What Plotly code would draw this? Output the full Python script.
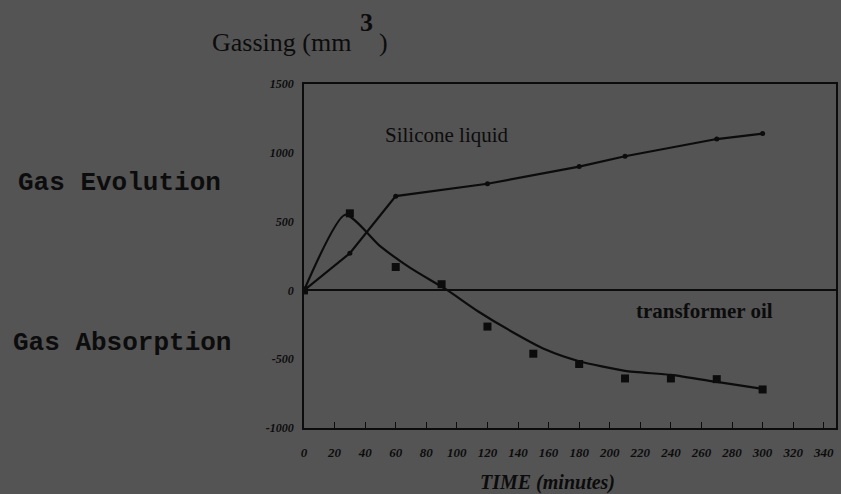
import plotly.graph_objects as go

# ---- data ----
silicone_t = [0, 30, 60, 120, 180, 210, 270, 300]
silicone_v = [0, 270, 685, 775, 900, 975, 1100, 1140]

oil_t = [0, 30, 60, 90, 120, 150, 180, 210, 240, 270, 300]
oil_v = [0, 560, 170, 45, -263, -460, -535, -640, -640, -645, -720]

# hand-drawn fitted curve through the transformer oil points
oil_fit_t = [0, 27, 50, 70, 93, 114, 136, 158, 180, 210, 240, 270, 300]
oil_fit_v = [0, 550, 320, 160, 7, -153, -300, -430, -515, -585, -614, -665, -716]

x_ticks = list(range(0, 341, 20))
x_tick_text = [str(v) for v in x_ticks]
y_ticks = [1500, 1000, 500, 0, -500, -1000]
y_tick_text = ["1500", "1000", "500", "0", "-500", "-1000"]

# ---- layout geometry ----
W, H = 841, 494
L, R, T, B = 304, 3, 84, 66
BG = "#545454"
INK = "#0c0c0c"


def px(xpix):
    return (xpix - L) / (W - L - R)


def py(ypix):
    return 1 - (ypix - T) / (H - T - B)


fig = go.Figure()
fig.add_trace(go.Scatter(
    x=silicone_t, y=silicone_v, mode="lines+markers",
    line=dict(color=INK, width=2.2),
    marker=dict(color=INK, size=5, symbol="circle"),
    showlegend=False, hoverinfo="skip"))
fig.add_trace(go.Scatter(
    x=oil_fit_t, y=oil_fit_v, mode="lines",
    line=dict(color=INK, width=2.2, shape="spline", smoothing=0.6),
    showlegend=False, hoverinfo="skip"))
fig.add_trace(go.Scatter(
    x=oil_t, y=oil_v, mode="markers",
    marker=dict(color=INK, size=8, symbol="square"),
    showlegend=False, hoverinfo="skip"))

serif = "Liberation Serif"
ann = []
ann.append(dict(text="Gassing (mm", x=px(210), y=py(42), xanchor="left", yanchor="middle",
                font=dict(family=serif, size=26, color=INK)))
ann.append(dict(text="3", x=px(367), y=py(22), xanchor="center", yanchor="middle",
                font=dict(family=serif, size=26, color=INK, weight="bold")))
ann.append(dict(text=")", x=px(377), y=py(42), xanchor="left", yanchor="middle",
                font=dict(family=serif, size=26, color=INK)))
ann.append(dict(text="Gas Evolution", x=px(15), y=py(183), xanchor="left", yanchor="middle",
                font=dict(family="Liberation Mono", size=26, color=INK, weight="bold")))
ann.append(dict(text="Gas Absorption", x=px(10), y=py(343), xanchor="left", yanchor="middle",
                font=dict(family="Liberation Mono", size=26, color=INK, weight="bold")))
ann.append(dict(text="Silicone liquid", x=px(448), y=py(135), xanchor="center", yanchor="middle",
                font=dict(family=serif, size=21, color=INK)))
ann.append(dict(text="transformer oil", x=px(706), y=py(311), xanchor="center", yanchor="middle",
                font=dict(family=serif, size=21, color=INK, weight="bold")))
ann.append(dict(text="TIME (minutes)", x=px(548), y=py(482), xanchor="center", yanchor="middle",
                font=dict(family=serif, size=20, color=INK, weight="bold", style="italic")))
for a in ann:
    a.update(xref="paper", yref="paper", showarrow=False)

fig.update_layout(
    width=W, height=H,
    margin=dict(l=L, r=R, t=T, b=B),
    paper_bgcolor=BG, plot_bgcolor=BG,
    annotations=ann,
    xaxis=dict(range=[0, 348], tickvals=x_ticks, ticktext=x_tick_text,
               showgrid=False, zeroline=False, showline=True, mirror=True,
               linecolor=INK, linewidth=1.6, ticks="inside", ticklen=6, tickcolor=INK,
               tickwidth=1.2, ticklabelstandoff=12,
               tickfont=dict(family=serif, size=13, color=INK, weight="bold", style="italic")),
    yaxis=dict(range=[-1000, 1500], tickvals=y_ticks, ticktext=y_tick_text,
               showgrid=False, zeroline=True, zerolinecolor=INK, zerolinewidth=1.6,
               showline=True, mirror=True, linecolor=INK, linewidth=1.6,
               ticks="", ticklabelstandoff=6,
               tickfont=dict(family=serif, size=12, color=INK, weight="bold", style="italic")),
)

fig.write_html("out.html")
